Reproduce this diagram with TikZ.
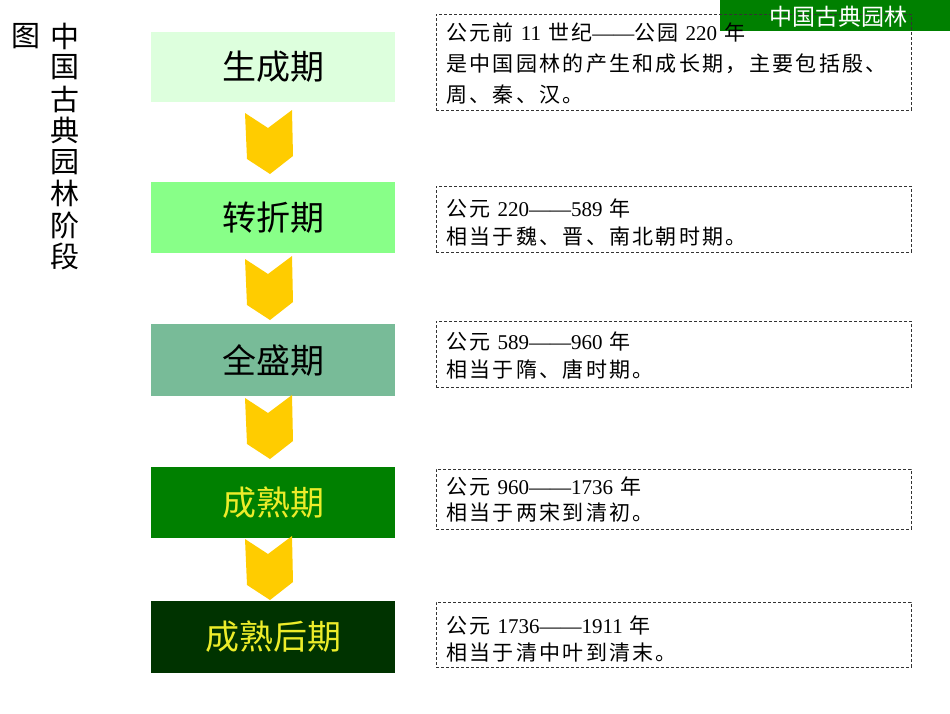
\documentclass[tikz,border=0pt]{standalone}
\usepackage{fontspec}
\setmainfont{Liberation Serif}
\newfontfamily\cjk{Noto Sans CJK SC}
\newfontfamily\cjkt[LetterSpace=11]{Noto Sans CJK SC}
\newcommand\lat[1]{{\rmfamily #1}}
\definecolor{s1}{HTML}{DDFFDD}
\definecolor{s2}{HTML}{88FF88}
\definecolor{s3}{HTML}{78BB98}
\definecolor{s4}{HTML}{008000}
\definecolor{s5}{HTML}{003300}
\definecolor{ylw}{HTML}{ECEC2A}
\definecolor{chevc}{HTML}{FFCC00}
\definecolor{hdrc}{HTML}{008000}
\tikzset{
  stage/.style={draw=none, minimum width=244pt, inner sep=0pt,
    font=\cjk\fontsize{34}{34}\selectfont},
  dbox/.style={draw=black!80, line width=0.8pt, dash pattern=on 3pt off 2pt,
    minimum width=475pt, inner sep=0pt},
  desc/.style={anchor=west, align=left, inner sep=0pt,
    font=\cjkt\fontsize{21}{28}\selectfont},
  vt/.style={inner sep=0pt, font=\cjk\fontsize{29}{29}\selectfont},
  chev/.pic={\fill[chevc] (245,2) -- (268,17) -- (292,-1) -- (293,45) -- (270,63) -- (247,48) -- cycle;}
}
\begin{document}
\begin{tikzpicture}[x=1pt,y=-1pt]
\useasboundingbox (0,0) rectangle (950,713);
% header
\node[fill=hdrc, minimum width=230pt, minimum height=31pt, inner sep=0pt] (hdr) at (835,15.5) {};
% left vertical title
\node[vt] (tu) at (26,36) {图};
\foreach \c [count=\i] in {中,国,古,典,园,林,阶,段}
  \node[vt] (v\i) at (65,{36+31.5*(\i-1)}) {\c};
% stages
\node[stage, fill=s1, minimum height=70pt] (a1) at (273,67) {生成期};
\node[stage, fill=s2, minimum height=71pt] (a2) at (273,217.5) {转折期};
\node[stage, fill=s3, minimum height=72pt] (a3) at (273,360) {全盛期};
\node[stage, fill=s4, minimum height=71pt, text=ylw] (a4) at (273,502.5) {成熟期};
\node[stage, fill=s5, minimum height=72pt, text=ylw] (a5) at (273,637) {成熟后期};
% chevrons
\pic at (0,111) {chev};
\pic at (0,257) {chev};
\pic at (0,396) {chev};
\pic at (0,537) {chev};
% description boxes
\node[dbox, minimum height=96pt] (d1) at (673.5,62) {};
\node[dbox, minimum height=66pt] (d2) at (673.5,219) {};
\node[dbox, minimum height=66pt] (d3) at (673.5,354) {};
\node[dbox, minimum height=60pt] (d4) at (673.5,499) {};
\node[dbox, minimum height=65pt] (d5) at (673.5,634.5) {};
\node[desc, font=\cjkt\fontsize{21}{31}\selectfont] (t1) at (446,64)
  {公元前 \lat{11} 世纪\lat{——}公园 \lat{220} 年\\是中国园林的产生和成长期，主要包括殷、\\周、秦、汉。};
\node[desc] (t2) at (446,222.5) {公元 \lat{220——589} 年\\相当于魏、晋、南北朝时期。};
\node[desc] (t3) at (446,356) {公元 \lat{589——960} 年\\相当于隋、唐时期。};
\node[desc, font=\cjkt\fontsize{21}{26}\selectfont] (t4) at (446,499.5) {公元 \lat{960——1736} 年\\相当于两宋到清初。};
\node[desc, font=\cjkt\fontsize{21}{27}\selectfont] (t5) at (446,638.5) {公元 \lat{1736——1911} 年\\相当于清中叶到清末。};
% header text
\node[inner sep=0pt, text=white, font=\cjk\fontsize{23}{23}\selectfont] (hdrt) at (838,17) {中国古典园林};
\end{tikzpicture}
\end{document}
